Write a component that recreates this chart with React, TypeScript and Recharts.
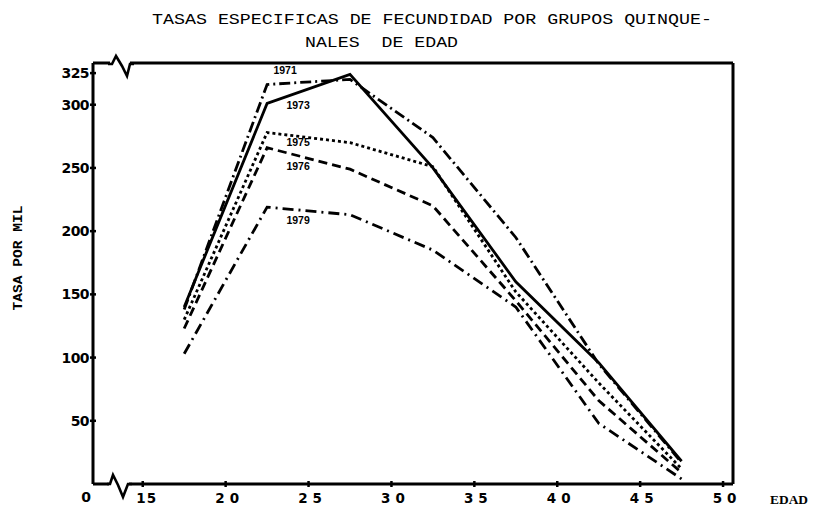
import { LineChart, Line, XAxis, YAxis, ReferenceLine, LabelList } from "recharts";

const AGES = [17.5, 22.5, 27.5, 32.5, 37.5, 42.5, 47.5];
const Y1971 = [138, 316, 320, 274, 195, 95, 17];
const Y1973 = [140, 301, 324, 250, 160, 96, 18];
const Y1975 = [130, 278, 270, 251, 152, 80, 12];
const Y1976 = [123, 266, 249, 220, 145, 66, 9];
const Y1979 = [103, 219, 213, 185, 140, 48, 4];

const X_TICKS = [15, 20, 25, 30, 35, 40, 45, 50];
const Y_TICKS = [0, 50, 100, 150, 200, 250, 300, 325];

const SERIES = [
  { key: "y1971", label: "1971", dash: "11 4 2 4", dx: 18, dy: -10 },
  { key: "y1973", label: "1973", dash: undefined, dx: 31, dy: 6 },
  { key: "y1975", label: "1975", dash: "3 3", dx: 31, dy: 13 },
  { key: "y1976", label: "1976", dash: "9 5", dx: 31, dy: 22 },
  { key: "y1979", label: "1979", dash: "11 5 2 5", dx: 31, dy: 17 },
];

const rows = AGES.map((age, i) => ({
  age,
  y1971: Y1971[i],
  y1973: Y1973[i],
  y1975: Y1975[i],
  y1976: Y1976[i],
  y1979: Y1979[i],
}));

const tickFont = "'DejaVu Sans', sans-serif";

function XTick({ x, y, payload }: any) {
  return (
    <g>
      <line x1={x} x2={x} y1={y - 3} y2={y + 3} stroke="#000" strokeWidth={2.5} />
      <text
        x={x + 4}
        y={y + 19}
        textAnchor="middle"
        fontFamily={tickFont}
        fontWeight="bold"
        fontSize={13.5}
        letterSpacing={payload.value === 15 ? 1 : 5}
        fill="#000"
      >
        {payload.value}
      </text>
    </g>
  );
}

function YTick({ x, y, payload }: any) {
  if (payload.value === 0) {
    return (
      <text x={x - 2} y={y + 18} textAnchor="end" fontFamily={tickFont} fontWeight="bold" fontSize={14} fill="#000">
        0
      </text>
    );
  }
  return (
    <g>
      <line x1={x - 3} x2={x + 3} y1={y} y2={y} stroke="#000" strokeWidth={2.5} />
      <text
        x={x - 4}
        y={y + 5}
        textAnchor="end"
        fontFamily={tickFont}
        fontWeight="bold"
        fontSize={14}
        letterSpacing={-0.6}
        fill="#000"
      >
        {payload.value}
      </text>
    </g>
  );
}

function yearLabel(text: string, dx: number, dy: number) {
  return (props: any) => {
    if (props.index !== 1) return null;
    return (
      <text
        x={props.x + dx}
        y={props.y + dy}
        textAnchor="middle"
        fontFamily="'Liberation Sans', sans-serif"
        fontWeight="bold"
        fontSize={10.5}
        fill="#000"
      >
        {text}
      </text>
    );
  };
}

export default function App() {
  return (
    <div style={{ position: "absolute", left: 0, top: 0, width: 815, height: 514, background: "#fff" }}>
      <LineChart width={815} height={514} data={rows} margin={{ top: 63, right: 82, bottom: 0, left: 0 }}>
        <XAxis
          dataKey="age"
          type="number"
          domain={[12, 50.6]}
          ticks={X_TICKS}
          allowDataOverflow
          height={30}
          tickLine={false}
          tickSize={0}
          tickMargin={0}
          axisLine={{ stroke: "#000", strokeWidth: 3 }}
          tick={<XTick />}
        />
        <YAxis
          type="number"
          domain={[0, 333]}
          ticks={Y_TICKS}
          allowDataOverflow
          width={93}
          tickLine={false}
          tickSize={0}
          tickMargin={0}
          axisLine={{ stroke: "#000", strokeWidth: 3 }}
          tick={<YTick />}
        />
        <ReferenceLine y={333} stroke="#000" strokeWidth={3} />
        <ReferenceLine x={50.6} stroke="#000" strokeWidth={3} />
        {SERIES.map((s) => (
          <Line
            key={s.key}
            dataKey={s.key}
            type="linear"
            stroke="#000"
            strokeWidth={2.8}
            strokeDasharray={s.dash}
            dot={false}
            isAnimationActive={false}
          >
            <LabelList dataKey={s.key} content={yearLabel(s.label, s.dx, s.dy)} />
          </Line>
        ))}
      </LineChart>
      <svg width={815} height={514} style={{ position: "absolute", left: 0, top: 0, pointerEvents: "none" }}>
        <text x={152} y={24} fontFamily="'Liberation Mono', monospace" fontSize={15.5} textLength={560} lengthAdjust="spacingAndGlyphs" fill="#000">
          TASAS ESPECIFICAS DE FECUNDIDAD POR GRUPOS QUINQUE-
        </text>
        <text x={305} y={47} fontFamily="'Liberation Mono', monospace" fontSize={15.5} textLength={153} lengthAdjust="spacingAndGlyphs" fill="#000" style={{ whiteSpace: "pre" }}>
          {"NALES  DE EDAD"}
        </text>
        <text
          transform="translate(22 258) rotate(-90)"
          textAnchor="middle"
          fontFamily="'Liberation Mono', monospace"
          fontWeight="bold"
          fontSize={13}
          textLength={105}
          lengthAdjust="spacingAndGlyphs"
          fill="#000"
        >
          TASA POR MIL
        </text>
        <text x={770} y={504} fontFamily="'Liberation Serif', serif" fontWeight="bold" fontSize={13} textLength={38} lengthAdjust="spacingAndGlyphs" fill="#000">
          EDAD
        </text>
        {/* axis breaks */}
        <rect x={110} y={59} width={20} height={9} fill="#fff" />
        <path d="M108 64 L112 64 L116 56 L122 66 L127 76 L130 64 L134 64" fill="none" stroke="#000" strokeWidth={2.6} />
        <rect x={109} y={480} width={20} height={8} fill="#fff" />
        <path d="M107 484 L110 484 L113 475 L118 485 L123 497 L128 484 L132 484" fill="none" stroke="#000" strokeWidth={2.6} />
      </svg>
    </div>
  );
}
